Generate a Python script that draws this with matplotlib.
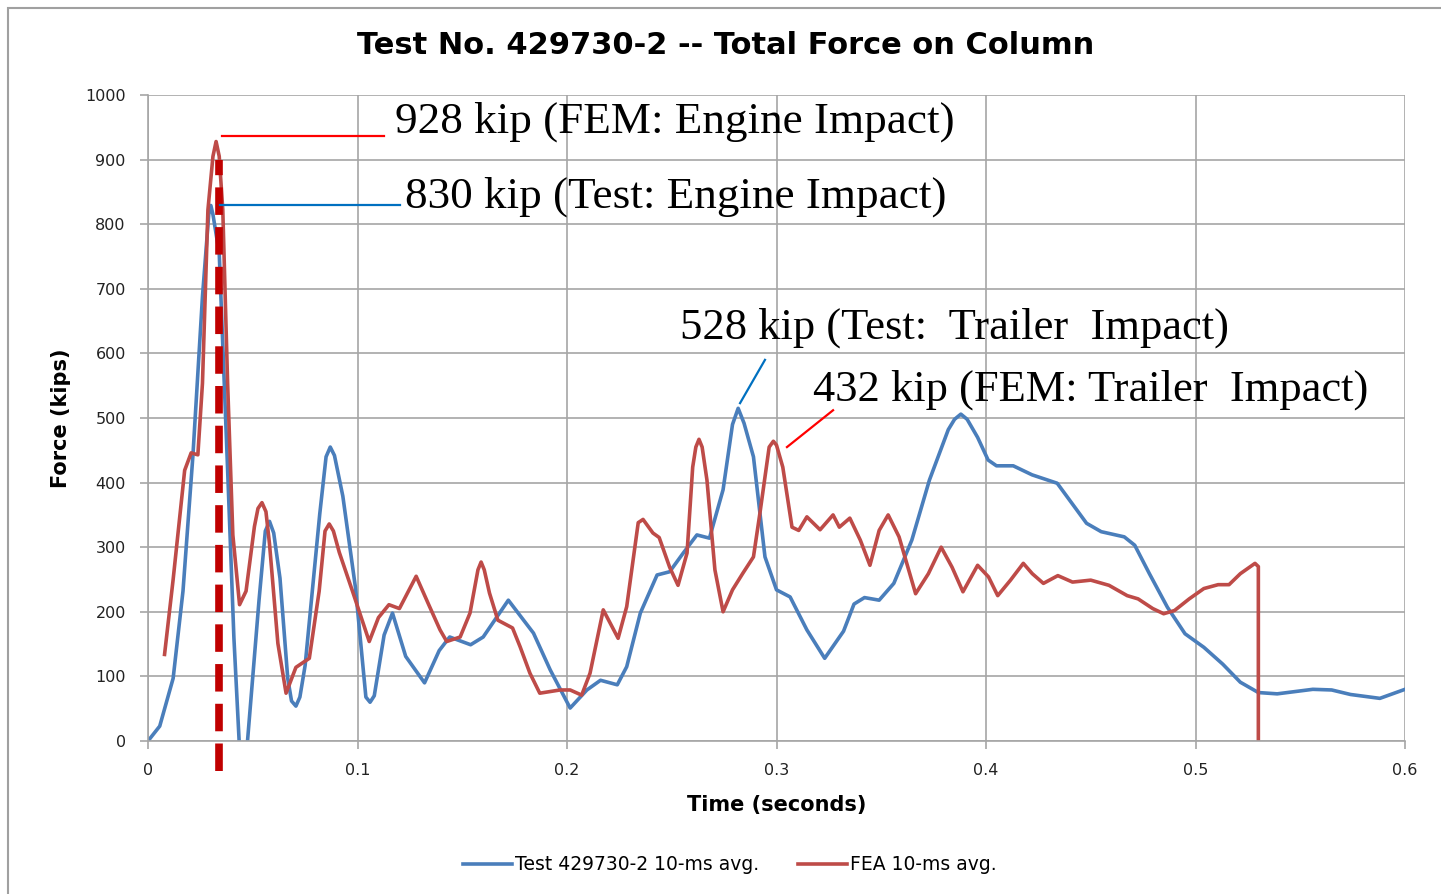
import matplotlib.pyplot as plt
from matplotlib.patches import Rectangle

# Test 429730-2 10-ms avg. (time in s, force in kips)
test_t = [0, 0.0056, 0.012, 0.0167, 0.0214, 0.026, 0.029, 0.030, 0.031, 0.034, 0.038, 0.041,
          0.0435, 0.0455, 0.0475, 0.053, 0.056, 0.058, 0.060, 0.063, 0.0667, 0.0685, 0.0706,
          0.0725, 0.075, 0.082, 0.085, 0.087, 0.089, 0.093, 0.099, 0.104, 0.106, 0.108, 0.1127,
          0.1167, 0.123, 0.132, 0.139, 0.144, 0.154, 0.160, 0.172, 0.184, 0.192, 0.2015,
          0.2095, 0.216, 0.224, 0.2285, 0.235, 0.243, 0.249, 0.2555, 0.262, 0.268, 0.2745, 0.279,
          0.2817, 0.2845, 0.289, 0.2945, 0.300, 0.3065, 0.3145, 0.323, 0.332, 0.337, 0.342, 0.349,
          0.356, 0.3646, 0.373, 0.382, 0.385, 0.388, 0.391, 0.396, 0.401, 0.405, 0.413, 0.422,
          0.434, 0.441, 0.448, 0.455, 0.466, 0.471, 0.478, 0.4866, 0.495, 0.504, 0.513, 0.5214,
          0.530, 0.539, 0.556, 0.565, 0.574, 0.588, 0.600]
test_f = [0, 23, 97, 232, 440, 688, 815, 829, 815, 755, 420, 160,
          0, -60, 0, 218, 325, 340, 322, 252, 97, 62, 54,
          68, 117, 352, 440, 455, 442, 379, 238, 68, 60, 70, 164,
          198, 131, 90, 140, 161, 149, 161, 218, 167, 110, 51,
          79, 94, 87, 115, 198, 257, 262, 291, 319, 314, 389, 490,
          515, 492, 440, 285, 234, 223, 172, 128, 170, 212, 222, 218,
          244, 311, 404, 482, 498, 506, 498, 470, 435, 426, 426, 412,
          399, 368, 337, 324, 316, 303, 259, 207, 166, 145, 119, 91,
          75, 73, 80, 79, 72, 66, 80]

# FEA 10-ms avg.
fea_t = [0.0079, 0.012, 0.0175, 0.0206, 0.0238, 0.026, 0.0286, 0.031, 0.0325, 0.034, 0.0357,
         0.038, 0.0405, 0.0437, 0.0468, 0.0508, 0.0525, 0.0544, 0.0563, 0.058, 0.062, 0.0659,
         0.0706, 0.077, 0.0817, 0.0845, 0.0865, 0.0885, 0.0913, 0.0976, 0.1056, 0.110, 0.115,
         0.120, 0.128, 0.134, 0.1394, 0.1426, 0.149, 0.1537, 0.1575, 0.159, 0.1605, 0.163, 0.167,
         0.174, 0.1776, 0.1823, 0.187, 0.1967, 0.2015, 0.207, 0.211, 0.2173, 0.2244, 0.2285,
         0.234, 0.2363, 0.241, 0.244, 0.249, 0.253, 0.2573, 0.260, 0.2615, 0.263, 0.2645, 0.2668,
         0.2706, 0.2745, 0.279, 0.284, 0.289, 0.2921, 0.2965, 0.2985, 0.300, 0.303, 0.3074,
         0.3106, 0.3145, 0.3208, 0.327, 0.330, 0.335, 0.340, 0.3446, 0.349, 0.3533, 0.3585,
         0.3664, 0.3725, 0.3786, 0.3838, 0.389, 0.396, 0.4012, 0.4056, 0.4117, 0.4178, 0.4221,
         0.4274, 0.4343, 0.4413, 0.450, 0.4587, 0.4674, 0.4726, 0.4796, 0.4848, 0.490, 0.497,
         0.504, 0.5108, 0.516, 0.5214, 0.5284, 0.530, 0.530]
fea_f = [134, 250, 419, 446, 443, 554, 822, 905, 928, 905, 822,
         554, 319, 211, 232, 332, 360, 369, 355, 305, 151, 74,
         114, 128, 232, 325, 336, 325, 292, 232, 154, 191, 211,
         205, 255, 211, 172, 154, 161, 198, 265, 277, 265, 229, 187,
         175, 146, 105, 74, 79, 79, 71, 105, 203, 159, 208,
         338, 343, 322, 315, 269, 241, 291, 424, 455, 467, 455, 404,
         265, 200, 234, 260, 285, 353, 455, 464, 458, 424, 331,
         326, 347, 327, 350, 331, 345, 311, 272, 326, 350, 316,
         228, 259, 300, 269, 231, 272, 254, 225, 249, 275, 259,
         244, 256, 246, 249, 241, 225, 220, 205, 197, 202, 220,
         236, 242, 242, 259, 275, 270, 0]

impact_t = 0.0339
x_ticks = [0, 0.1, 0.2, 0.3, 0.4, 0.5, 0.6]
x_labels = ['0', '0.1', '0.2', '0.3', '0.4', '0.5', '0.6']
y_ticks = list(range(0, 1001, 100))

blue = '#4A7EBB'
red = '#BE4B48'
grid = '#A6A6A6'

fig = plt.figure(figsize=(14.41, 8.94), dpi=100)
fig.patches.append(Rectangle((8 / 1441, -0.1), 1.2, 1.1 - 8 / 894, transform=fig.transFigure,
                             fill=False, edgecolor='#A0A0A0', lw=1.5))
ax = fig.add_axes([148 / 1441, 153 / 894, 1257 / 1441, 646 / 894])

ax.plot(test_t, test_f, color=blue, lw=2.6, solid_joinstyle='round', label='Test 429730-2 10-ms avg.')
ax.plot(fea_t, fea_f, color=red, lw=2.6, solid_joinstyle='round', label='FEA 10-ms avg.')
ax.plot([impact_t, impact_t], [-47, 900], color='#C00000', lw=5.5, dashes=(3.6, 1.6), clip_on=False)

ax.set_xlim(0, 0.6)
ax.set_ylim(0, 1000)
ax.set_xticks(x_ticks)
ax.set_xticklabels(x_labels)
ax.set_yticks(y_ticks)
ax.grid(True, color=grid, lw=1.2)
for s in ['top', 'right']:
    ax.spines[s].set_visible(False)
for s in ['left', 'bottom']:
    ax.spines[s].set_color(grid)
    ax.spines[s].set_linewidth(1.2)
ax.tick_params(colors=grid, labelcolor='#222222', labelsize=11.5, length=6, width=1.2, pad=10)

ax.set_xlabel('Time (seconds)', fontsize=15, fontweight='semibold', labelpad=12)
ax.set_ylabel('Force (kips)', fontsize=15, fontweight='semibold', labelpad=10)
fig.text(726 / 1441, 1 - 46 / 894, 'Test No. 429730-2 -- Total Force on Column',
         ha='center', va='center', fontsize=22, fontweight='bold')

# peak call-outs
serif = 'Liberation Serif'
ax.plot([0.0353, 0.1127], [936, 936], color='#FF0000', lw=1.6)
ax.text(0.1179, 958, '928 kip (FEM: Engine Impact)', family=serif, fontsize=32.5, va='center')
ax.plot([0.0344, 0.1203], [830, 830], color='#0070C0', lw=1.6)
ax.text(0.1227, 842, '830 kip (Test: Engine Impact)', family=serif, fontsize=32.5, va='center')
ax.plot([0.2826, 0.2945], [523, 590], color='#0070C0', lw=1.6)
ax.text(0.2539, 639, '528 kip (Test:  Trailer  Impact)', family=serif, fontsize=32, va='center')
ax.plot([0.305, 0.327], [455, 512], color='#FF0000', lw=1.6)
ax.text(0.3174, 543, '432 kip (FEM: Trailer  Impact)', family=serif, fontsize=32, va='center')

fig.legend(loc='center', bbox_to_anchor=(730 / 1441, 1 - 865 / 894), ncol=2, frameon=False,
           fontsize=13.5, handlelength=2.6, handletextpad=0.15, columnspacing=2.1)

fig.savefig('out.png', dpi=100)
